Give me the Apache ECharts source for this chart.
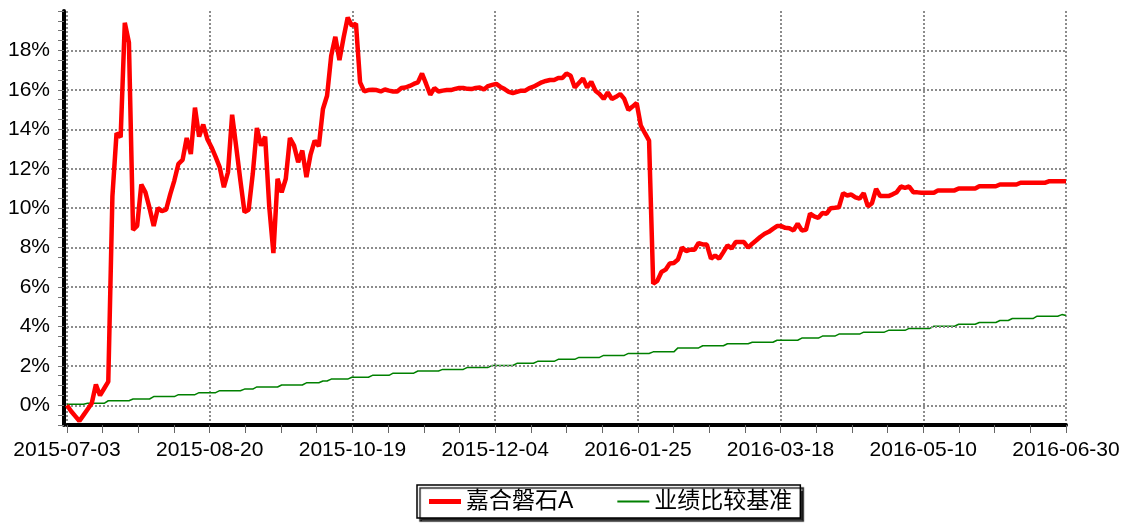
<!DOCTYPE html>
<html>
<head>
<meta charset="utf-8">
<script src="https://cdn.jsdelivr.net/npm/echarts@6/dist/echarts.min.js"></script>
<style>
	html, body { margin: 0; padding: 0; background: #fff; }
	#main { width: 1125px; height: 523px; }
</style>
</head>
<body>
<div id="main"></div>
<script>
var tickLabels = ['2015-07-03', '2015-08-20', '2015-10-19', '2015-12-04', '2016-01-25', '2016-03-18', '2016-05-10', '2016-06-30'];
var lastDay = 242;
var fundName = '嘉合磐石A';
var benchName = '业绩比较基准';
var gridValues = [0, 2, 4, 6, 8, 10, 12, 14, 16, 18];

// 嘉合磐石A 累计收益 (%)
var fundValues = [
	0, -0.3, -0.55, -0.8, -0.5, -0.2, 0.1, 1.05, 0.5, 0.85,
	1.2, 10.6, 13.8, 13.6, 19.4, 18.4, 8.9, 9.1, 11.2, 10.8,
	10.0, 9.1, 10.0, 9.85, 9.92, 10.7, 11.4, 12.25, 12.45, 13.56,
	12.75, 15.1, 13.63, 14.24, 13.5, 13.09, 12.6, 12.07, 11.06, 11.82,
	14.74, 13.09, 11.4, 9.8, 9.92, 11.74, 14.07, 13.17, 13.63, 10.05,
	7.72, 11.49, 10.8, 11.49, 13.56, 13.17, 12.33, 12.92, 11.57, 12.72,
	13.43, 13.14, 15.03, 15.7, 17.73, 18.69, 17.51, 18.65, 19.67, 19.25,
	19.36, 16.38, 15.92, 15.99, 16.0, 15.99, 15.92, 16.02, 15.96, 15.92,
	15.92, 16.09, 16.12, 16.2, 16.3, 16.38, 16.83, 16.3, 15.75, 16.09,
	15.92, 15.96, 15.99, 15.99, 16.05, 16.09, 16.09, 16.05, 16.04, 16.1,
	16.12, 16.02, 16.19, 16.25, 16.3, 16.15, 16.04, 15.9, 15.84, 15.9,
	15.96, 15.96, 16.09, 16.16, 16.27, 16.38, 16.45, 16.5, 16.5, 16.6,
	16.6, 16.83, 16.72, 16.12, 16.35, 16.58, 16.12, 16.41, 15.96, 15.79,
	15.54, 15.87, 15.54, 15.65, 15.79, 15.54, 14.98, 15.15, 15.33, 14.19,
	13.8, 13.43, 6.17, 6.31, 6.76, 6.88, 7.19, 7.22, 7.39, 8.0,
	7.82, 7.89, 7.89, 8.23, 8.16, 8.15, 7.44, 7.6, 7.44, 7.77,
	8.11, 7.95, 8.28, 8.28, 8.28, 8.0, 8.2, 8.37, 8.55, 8.7,
	8.8, 8.95, 9.09, 9.09, 9.0, 8.98, 8.87, 9.21, 8.87, 8.9,
	9.72, 9.58, 9.51, 9.75, 9.72, 10.0, 10.02, 10.05, 10.76, 10.64,
	10.69, 10.55, 10.48, 10.76, 10.09, 10.25, 10.98, 10.61, 10.61, 10.61,
	10.7, 10.81, 11.1, 11.03, 11.1, 10.81, 10.8, 10.78, 10.78, 10.78,
	10.78, 10.9, 10.9, 10.9, 10.9, 10.9, 11.0, 11.0, 11.0, 11.0,
	11.0, 11.11, 11.11, 11.11, 11.11, 11.11, 11.2, 11.2, 11.2, 11.2,
	11.2, 11.29, 11.29, 11.29, 11.29, 11.29, 11.29, 11.29, 11.37, 11.37,
	11.37, 11.37, 11.37
];

// 业绩比较基准 (%)
var benchValues = [
	0.05, 0.05, 0.05, 0.05, 0.05, 0.1, 0.1, 0.1, 0.1, 0.1,
	0.23, 0.23, 0.23, 0.23, 0.23, 0.23, 0.32, 0.32, 0.32, 0.32,
	0.32, 0.44, 0.44, 0.44, 0.44, 0.44, 0.44, 0.54, 0.54, 0.54,
	0.54, 0.54, 0.64, 0.64, 0.64, 0.64, 0.64, 0.74, 0.74, 0.74,
	0.74, 0.74, 0.74, 0.82, 0.82, 0.82, 0.93, 0.93, 0.93, 0.93,
	0.93, 0.93, 1.03, 1.03, 1.03, 1.03, 1.03, 1.03, 1.14, 1.14,
	1.14, 1.14, 1.23, 1.23, 1.33, 1.33, 1.33, 1.33, 1.33, 1.42,
	1.42, 1.42, 1.42, 1.42, 1.52, 1.52, 1.52, 1.52, 1.52, 1.63,
	1.63, 1.63, 1.63, 1.63, 1.63, 1.74, 1.74, 1.74, 1.74, 1.74,
	1.74, 1.82, 1.82, 1.82, 1.82, 1.82, 1.82, 1.92, 1.92, 1.92,
	1.92, 1.92, 1.92, 2.02, 2.02, 2.02, 2.02, 2.02, 2.02, 2.13,
	2.13, 2.13, 2.13, 2.13, 2.23, 2.23, 2.23, 2.23, 2.23, 2.33,
	2.33, 2.33, 2.33, 2.33, 2.43, 2.43, 2.43, 2.43, 2.43, 2.43,
	2.53, 2.53, 2.53, 2.53, 2.53, 2.53, 2.63, 2.63, 2.63, 2.63,
	2.63, 2.63, 2.71, 2.71, 2.71, 2.71, 2.71, 2.71, 2.91, 2.91,
	2.91, 2.91, 2.91, 2.91, 3.02, 3.02, 3.02, 3.02, 3.02, 3.02,
	3.12, 3.12, 3.12, 3.12, 3.12, 3.12, 3.2, 3.2, 3.2, 3.2,
	3.2, 3.2, 3.3, 3.3, 3.3, 3.3, 3.3, 3.3, 3.41, 3.41,
	3.41, 3.41, 3.41, 3.51, 3.51, 3.51, 3.51, 3.61, 3.61, 3.61,
	3.61, 3.61, 3.61, 3.71, 3.71, 3.71, 3.71, 3.71, 3.71, 3.8,
	3.8, 3.8, 3.8, 3.8, 3.9, 3.9, 3.9, 3.9, 3.9, 3.9,
	4.01, 4.01, 4.01, 4.01, 4.01, 4.01, 4.11, 4.11, 4.11, 4.11,
	4.11, 4.2, 4.2, 4.2, 4.2, 4.2, 4.3, 4.3, 4.3, 4.4,
	4.4, 4.4, 4.4, 4.4, 4.4, 4.52, 4.52, 4.52, 4.52, 4.52,
	4.52, 4.6, 4.55
];

var font = 'Liberation Sans, Arial, Noto Sans CJK SC, sans-serif';
var labelStep = lastDay / (tickLabels.length - 1);
var dotted = { color: '#8c8c8c', width: 2, type: [2, 2] };

function toPoints(arr) {
	return arr.map(function (v, i) { return [i, v]; });
}

var myChart = echarts.init(document.getElementById('main'));
myChart.setOption({
	animation: false,
	textStyle: { fontFamily: font },
	grid: { left: 67, right: 59, top: 11, bottom: 98, outerBoundsMode: 'none' },
	legend: {
		left: 417,
		top: 485,
		itemGap: 44,
		itemWidth: 32,
		itemHeight: 5,
		padding: [5, 8, 5, 12],
		backgroundColor: '#fff',
		borderColor: '#000',
		borderWidth: 1.5,
		borderRadius: 0,
		shadowColor: 'rgba(0,0,0,0.85)',
		shadowBlur: 1,
		shadowOffsetX: 3,
		shadowOffsetY: 3,
		textStyle: { fontSize: 23, color: '#000', fontFamily: font },
		data: [
			{ name: fundName, icon: 'path://M0,0h32v5h-32z' },
			{ name: benchName, icon: 'path://M0,0h30v2h-30z' }
		]
	},
	xAxis: [
		{
			// 小刻度
			type: 'value', min: 0, max: lastDay, interval: labelStep / 4, position: 'bottom',
			axisLine: { show: false, onZero: false },
			axisTick: { show: true, length: 8, lineStyle: { color: '#666', width: 1 } },
			axisLabel: { show: false },
			splitLine: { show: false }
		},
		{
			type: 'value', min: 0, max: lastDay, interval: labelStep, position: 'bottom',
			axisLine: { show: true, onZero: false, lineStyle: { color: '#000', width: 4 } },
			axisTick: { show: false },
			axisLabel: {
				margin: 15, fontSize: 21, color: '#000', fontFamily: font,
				formatter: function (v) { return tickLabels[Math.round(v / labelStep)] || ''; }
			},
			splitLine: { show: true, lineStyle: dotted }
		}
	],
	yAxis: [
		{
			type: 'value', min: -1, max: 20, interval: 1, offset: 3, position: 'left',
			axisLine: { show: true, onZero: false, lineStyle: { color: '#000', width: 4 } },
			axisTick: { show: false },
			axisLabel: {
				margin: 14, fontSize: 21, color: '#000', fontFamily: font,
				formatter: function (v) {
					var r = Math.round(v);
					return (r >= 0 && r <= 18 && r % 2 === 0) ? r + '%' : '';
				}
			},
			splitLine: { show: false }
		},
		{
			// 小刻度
			type: 'value', min: -1, max: 20, interval: 0.5, offset: 3, position: 'left',
			axisLine: { show: false, onZero: false },
			axisTick: { show: true, length: 6, lineStyle: { color: '#777', width: 1 } },
			axisLabel: { show: false },
			splitLine: { show: false }
		}
	],
	series: [
		{
			name: benchName,
			type: 'line',
			z: 2,
			showSymbol: false,
			lineStyle: { color: '#008000', width: 1.5 },
			itemStyle: { color: '#008000' },
			data: toPoints(benchValues),
			markLine: {
				silent: true,
				symbol: 'none',
				label: { show: false },
				lineStyle: dotted,
				data: gridValues.map(function (v) { return { yAxis: v }; })
			}
		},
		{
			name: fundName,
			type: 'line',
			z: 5,
			showSymbol: false,
			lineStyle: { color: '#ff0000', width: 4.5 },
			itemStyle: { color: '#ff0000' },
			data: toPoints(fundValues)
		}
	]
});
</script>
</body>
</html>
